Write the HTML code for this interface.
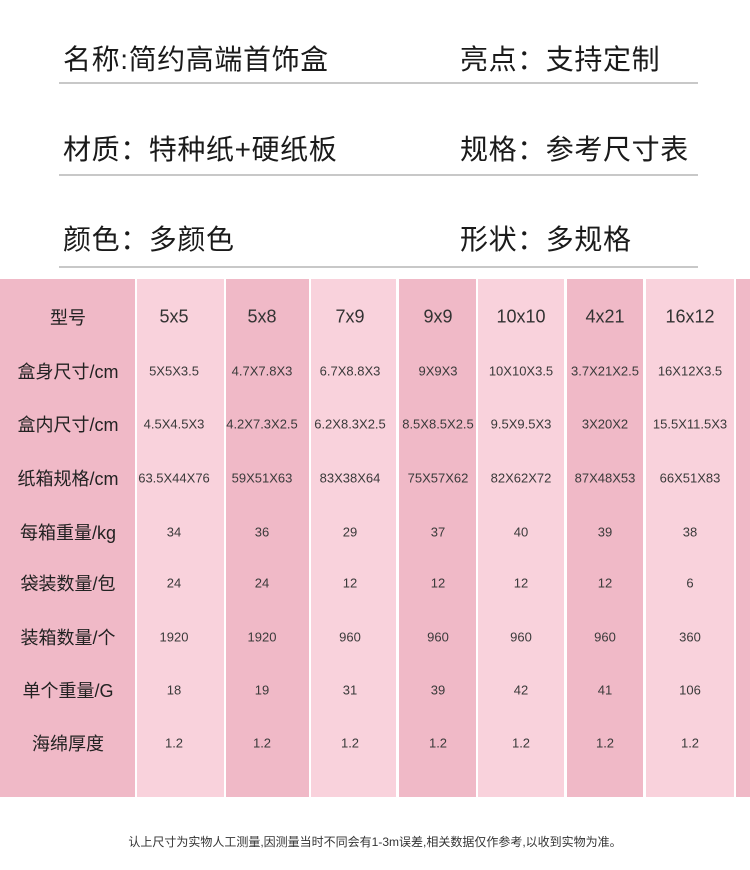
<!DOCTYPE html>
<html><head><meta charset="utf-8"><style>
*{margin:0;padding:0;box-sizing:border-box}
body{width:750px;height:870px;background:#fff;position:relative;overflow:hidden;font-family:"Liberation Sans","Noto Sans CJK SC",sans-serif;color:#222}
.t{position:absolute;font-size:28px;line-height:30px;white-space:nowrap;color:#1a1a1a;letter-spacing:0.6px}
.ln{position:absolute;left:59px;width:639px;height:2px;background:#c8c8c8}
.col{position:absolute;top:279px;height:518px}
.d{background:#f0b9c7}.l{background:#f9d2dc}
.c{position:absolute;transform:translate(-50%,-50%);white-space:nowrap;color:#3a3a3a;font-size:13px}
.h{font-size:18px;color:#333}
.r{font-size:18px;color:#222}
.f{position:absolute;left:0;width:750px;top:833px;text-align:center;font-size:12px;color:#333}
</style></head><body>
<div class="t" style="left:63px;top:45px">名称:简约高端首饰盒</div>
<div class="t" style="left:460px;top:45px">亮点：支持定制</div>
<div class="ln" style="top:82px"></div>
<div class="t" style="left:63px;top:135px">材质：特种纸+硬纸板</div>
<div class="t" style="left:460px;top:135px">规格：参考尺寸表</div>
<div class="ln" style="top:174px"></div>
<div class="t" style="left:63px;top:225px">颜色：多颜色</div>
<div class="t" style="left:460px;top:225px">形状：多规格</div>
<div class="ln" style="top:266px"></div>

<div class="col d" style="left:0;width:135px"></div>
<div class="col l" style="left:137px;width:87px"></div>
<div class="col d" style="left:226px;width:83px"></div>
<div class="col l" style="left:311px;width:85px"></div>
<div class="col d" style="left:399px;width:77px"></div>
<div class="col l" style="left:478px;width:86px"></div>
<div class="col d" style="left:567px;width:76px"></div>
<div class="col l" style="left:646px;width:88px"></div>
<div class="col d" style="left:736px;width:14px"></div>

<div id="g"></div>
<script>
var xs=[68,174,262,350,438,521,605,690];
var ys=[317,371,424,478,532,583,637,690,743];
var rows=[
["型号","5x5","5x8","7x9","9x9","10x10","4x21","16x12"],
["盒身尺寸/cm","5X5X3.5","4.7X7.8X3","6.7X8.8X3","9X9X3","10X10X3.5","3.7X21X2.5","16X12X3.5"],
["盒内尺寸/cm","4.5X4.5X3","4.2X7.3X2.5","6.2X8.3X2.5","8.5X8.5X2.5","9.5X9.5X3","3X20X2","15.5X11.5X3"],
["纸箱规格/cm","63.5X44X76","59X51X63","83X38X64","75X57X62","82X62X72","87X48X53","66X51X83"],
["每箱重量/kg","34","36","29","37","40","39","38"],
["袋装数量/包","24","24","12","12","12","12","6"],
["装箱数量/个","1920","1920","960","960","960","960","360"],
["单个重量/G","18","19","31","39","42","41","106"],
["海绵厚度","1.2","1.2","1.2","1.2","1.2","1.2","1.2"]];
var h="";
rows.forEach(function(r,i){r.forEach(function(v,j){
var cls="c"+(j==0?" r":(i==0?" h":""));
h+='<div class="'+cls+'" style="left:'+xs[j]+'px;top:'+ys[i]+'px">'+v+'</div>';});});
document.getElementById("g").innerHTML=h;
</script>
<div class="f">认上尺寸为实物人工测量,因测量当时不同会有1-3m误差,相关数据仅作参考,以收到实物为准。</div>
</body></html>
